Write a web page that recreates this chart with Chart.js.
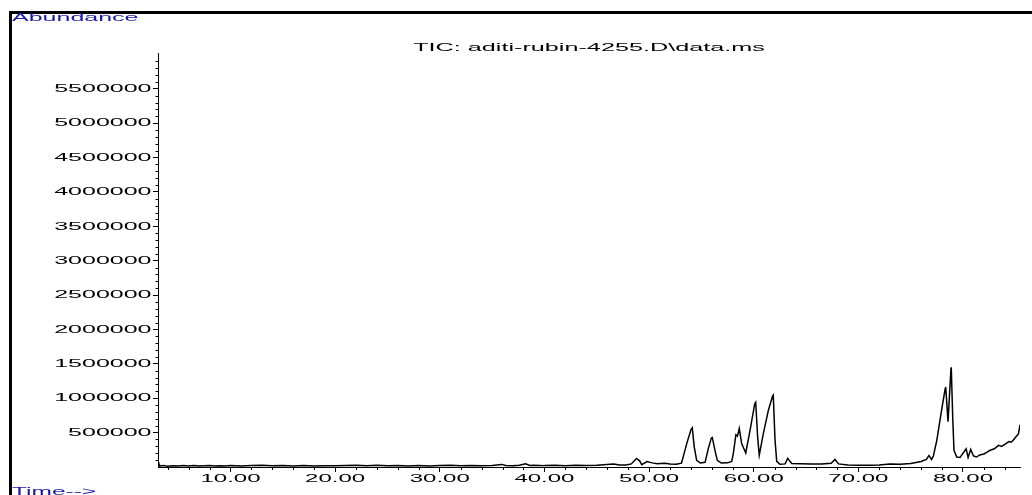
<!DOCTYPE html>
<html lang="en">
<head>
    <meta charset="UTF-8">
    <title>TIC chromatogram</title>
    <script src="https://cdn.jsdelivr.net/npm/chart.js"></script>
    <style>
        * {
            margin: 0;
            padding: 0;
            box-sizing: border-box;
        }

        body {
            background-color: #ffffff;
            width: 1032px;
            height: 495px;
            overflow: hidden;
            position: relative;
        }

        /* frame round the plot, top and left only */
        .frame {
            position: absolute;
            left: 9px;
            top: 11px;
            right: 0;
            bottom: 0;
            border-top: 3px solid #000;
            border-left: 3px solid #000;
        }

        #ticChart {
            position: absolute;
            left: 0;
            top: 0;
        }
    </style>
</head>
<body>
    <div class="frame"></div>
    <canvas id="ticChart" width="1032" height="495"></canvas>

    <script>
        // Retention time (min)
        const times = [
            3.07, 3.15, 3.3, 3.6, 4.0, 4.5, 5.0, 5.5, 6.0, 6.5, 7.0, 7.5, 8.0, 8.5, 9.0, 9.5,
            10.0, 11.0, 12.0, 13.0, 14.0, 15.0, 16.0, 17.0, 18.0, 19.0, 20.0, 21.0, 22.0, 23.0,
            24.0, 25.0, 26.0, 27.0, 28.0, 29.0, 30.0, 31.0, 32.0, 33.0, 34.0, 35.0, 35.9, 36.3,
            37.0, 37.6, 38.2, 38.6, 39.0, 40.0, 41.0, 42.0, 43.0, 44.0, 45.0, 46.0, 46.6, 47.2,
            47.8, 48.3, 48.8, 49.1, 49.3, 49.8, 50.3, 50.8, 51.5, 52.0, 52.6, 53.1, 53.6, 54.0, 54.13,
            54.32, 54.55, 54.9, 55.35, 55.66, 55.95, 56.04, 56.3, 56.52, 56.9, 57.5, 57.9, 58.05, 58.3,
            58.45, 58.62, 58.85, 59.24, 59.65, 60.1, 60.19, 60.38, 60.53, 60.92, 61.4, 61.8, 61.87, 62.04,
            62.2, 62.5, 63.0, 63.25, 63.63, 64.5, 65.5, 66.5, 67.4, 67.77, 68.1, 69.0, 70.0, 71.0,
            72.0, 73.0, 74.0, 75.0, 76.0, 76.5, 76.75, 77.0, 77.17, 77.5, 77.98, 78.3, 78.35, 78.57,
            78.85, 78.88, 79.02, 79.14, 79.4, 79.72, 80.3, 80.49, 80.74, 81.0, 81.3, 81.6, 82.0, 82.3,
            82.6, 83.0, 83.4, 83.7, 84.0, 84.2, 84.4, 84.6, 84.8, 85.1, 85.3, 85.45
        ];

        // Total ion current abundance
        const abundance = [
            70000, 40000, 15000, 20000, 12000, 18000, 14000, 20000, 16000, 21000, 13000, 18000, 22000, 15000, 19000, 14000,
            20000, 15000, 21000, 24000, 17000, 22000, 16000, 20000, 14000, 19000, 17000, 23000, 26000, 19000,
            24000, 18000, 21000, 16000, 20000, 15000, 21000, 24000, 18000, 22000, 19000, 23000, 38000, 21000,
            19000, 24000, 48000, 23000, 26000, 20000, 24000, 19000, 25000, 22000, 27000, 36000, 42000, 30000,
            28000, 45000, 125000, 90000, 35000, 80000, 60000, 48000, 55000, 45000, 40000, 55000, 340000, 540000, 570000,
            290000, 97000, 58000, 68000, 267000, 420000, 430000, 243000, 97000, 58000, 60000, 80000, 195000, 470000,
            450000, 560000, 340000, 204000, 533000, 920000, 940000, 430000, 170000, 485000, 824000, 1030000, 1045000, 388000,
            83000, 40000, 45000, 125000, 50000, 48000, 42000, 45000, 55000, 110000, 45000, 28000, 24000, 26000,
            30000, 45000, 40000, 52000, 80000, 110000, 165000, 110000, 160000, 388000, 849000, 1140000, 1165000, 660000,
            1420000, 1450000, 727000, 243000, 145000, 140000, 266000, 140000, 256000, 160000, 145000, 175000, 190000, 215000,
            243000, 265000, 315000, 300000, 330000, 350000, 370000, 360000, 390000, 446000, 480000, 615000
        ];

        // Axis ticks
        const xTickValues = [10, 20, 30, 40, 50, 60, 70, 80];
        const yTickValues = [500000, 1000000, 1500000, 2000000, 2500000, 3000000,
            3500000, 4000000, 4500000, 5000000, 5500000];
        const xMinorStep = 2;
        const yMinorStep = 100000;

        const FONT = '10px "Liberation Sans", Arial, sans-serif';
        const BLUE = '#1a1aa6';

        // draws text squeezed out sideways, like the original printout
        function wideText(ctx, text, x, y, sx, align, baseline, color) {
            ctx.save();
            ctx.translate(x, y);
            ctx.scale(sx, 1);
            ctx.font = FONT;
            ctx.textAlign = align;
            ctx.textBaseline = baseline;
            ctx.fillStyle = color;
            ctx.fillText(text, 0, 0);
            ctx.restore();
        }

        const labelPlugin = {
            id: 'labelPlugin',
            afterDraw(chart) {
                const ctx = chart.ctx;
                const xs = chart.scales.x;
                const ys = chart.scales.y;

                // minor ticks
                ctx.save();
                ctx.strokeStyle = '#000';
                ctx.lineWidth = 1;
                ctx.beginPath();
                for (let v = yMinorStep; v <= ys.max; v += yMinorStep) {
                    if (v % 500000 === 0) continue;
                    const py = Math.round(ys.getPixelForValue(v)) + 0.5;
                    ctx.moveTo(ys.right - 2.5, py);
                    ctx.lineTo(ys.right, py);
                }
                for (let t = 4; t <= xs.max; t += xMinorStep) {
                    if (t % 10 === 0) continue;
                    const px = Math.round(xs.getPixelForValue(t)) + 0.5;
                    ctx.moveTo(px, xs.top);
                    ctx.lineTo(px, xs.top + 3);
                }
                ctx.stroke();
                ctx.restore();

                // tick labels
                ys.ticks.forEach(function (tk, i) {
                    wideText(ctx, String(tk.value), ys.right - 6.5, ys.getPixelForTick(i) + 0.5,
                        2.5, 'right', 'middle', '#000');
                });
                xs.ticks.forEach(function (tk, i) {
                    wideText(ctx, tk.value.toFixed(2), xs.getPixelForTick(i), 482.3,
                        2.4, 'center', 'alphabetic', '#000');
                });

                // titles
                wideText(ctx, 'TIC: aditi-rubin-4255.D\\data.ms', 589, 50.5, 2.52, 'center', 'alphabetic', '#000');
                wideText(ctx, 'Abundance', 12, 20.7, 2.5, 'left', 'alphabetic', BLUE);
                wideText(ctx, 'Time-->', 12, 494.5, 2.45, 'left', 'alphabetic', BLUE);
            }
        };

        const points = times.map(function (t, i) {
            return { x: t, y: abundance[i] };
        });

        const ctxTic = document.getElementById('ticChart').getContext('2d');
        const ticChart = new Chart(ctxTic, {
            type: 'line',
            data: {
                datasets: [{
                    label: 'TIC',
                    data: points,
                    borderColor: '#000',
                    borderWidth: 1.5,
                    pointRadius: 0,
                    tension: 0,
                    fill: false
                }]
            },
            options: {
                responsive: false,
                animation: false,
                layout: {
                    padding: { left: 0, right: 12, top: 53, bottom: 0 }
                },
                plugins: {
                    legend: { display: false },
                    tooltip: { enabled: false },
                    title: { display: false }
                },
                scales: {
                    x: {
                        type: 'linear',
                        min: 3.07,
                        max: 85.45,
                        afterBuildTicks: function (scale) {
                            scale.ticks = xTickValues.map(function (v) { return { value: v }; });
                        },
                        afterFit: function (scale) {
                            scale.height = 28;
                        },
                        ticks: { display: false },
                        grid: {
                            drawOnChartArea: false,
                            drawTicks: true,
                            tickLength: 5,
                            color: '#000',
                            lineWidth: 1
                        },
                        border: { display: true, color: '#000', width: 1 }
                    },
                    y: {
                        type: 'linear',
                        min: 0,
                        max: 6020000,
                        afterBuildTicks: function (scale) {
                            scale.ticks = yTickValues.map(function (v) { return { value: v }; });
                        },
                        afterFit: function (scale) {
                            scale.width = 158;
                        },
                        ticks: { display: false },
                        grid: {
                            drawOnChartArea: false,
                            drawTicks: true,
                            tickLength: 5,
                            color: '#000',
                            lineWidth: 1
                        },
                        border: { display: true, color: '#000', width: 1 }
                    }
                }
            },
            plugins: [labelPlugin]
        });
    </script>
</body>
</html>
